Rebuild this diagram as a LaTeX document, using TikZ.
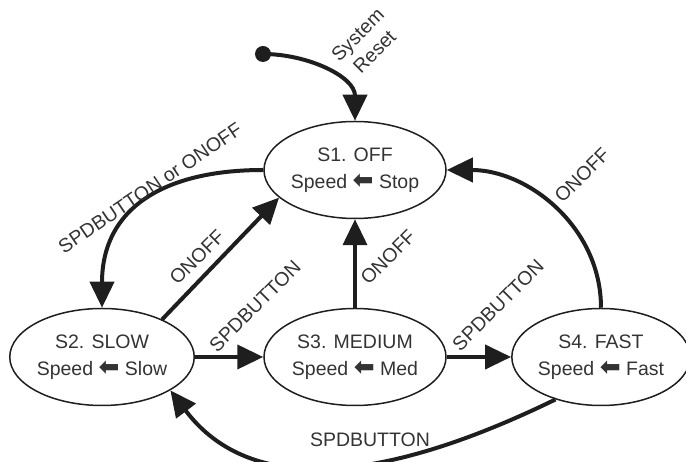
\documentclass[tikz,border=0pt]{standalone}
\usepackage{fontspec}
\setmainfont{Liberation Sans}
\newfontfamily\larrfont{DejaVu Sans}
\usetikzlibrary{shapes.geometric, arrows.meta, positioning}
\newcommand{\assign}{{\larrfont\bfseries\fontsize{25}{27}\selectfont ⬅}}
\definecolor{inkline}{HTML}{1E1E1E}
\definecolor{inktext}{HTML}{333333}

\begin{document}
\begin{tikzpicture}[x=1pt, y=1pt,
    statenode/.style={ellipse, draw=inkline, line width=1.5pt, minimum width=182pt,
        minimum height=97pt, inner sep=0pt, align=center, text=inktext,
        font=\fontsize{19.5}{27}\selectfont},
    lbl/.style={text=inktext, inner sep=0pt, font=\fontsize{19.5}{24}\selectfont},
    trans/.style={draw=inkline, line width=4pt, -{Triangle[length=26pt, width=24pt]}},
    dot/.style={circle, fill=inkline, inner sep=0pt, minimum size=16pt}]
\useasboundingbox (0,0) rectangle (686,462);

% States
\node[statenode] (S1) at (355,292) {S1. OFF\\Speed \assign{} Stop};
\node[statenode] (S2) at (102,105) {S2. SLOW\\Speed \assign{} Slow};
\node[statenode] (S3) at (355,105) {S3. MEDIUM\\Speed \assign{} Med};
\node[statenode, minimum width=170pt] (S4) at (601,105) {S4. FAST\\Speed \assign{} Fast};

% Reset entry
\node[dot] (reset) at (263,408) {};
\draw[trans] (reset.center) to[out=0, in=90] (S1.north);
\node[lbl, align=center, rotate=45] (resetlbl) at (366,419) {System\\Reset};

% Transitions
\draw[trans] (S1.west) to[out=180, in=90, looseness=1.2] (S2.north);
\draw[trans] (S2.32) -- (S1.200);
\draw[trans] (S2.east) -- (S3.west);
\draw[trans] (S3.north) -- (S1.south);
\draw[trans] (S3.east) -- (S4.west);
\draw[trans] (S4.north) to[out=90, in=0] (S1.east);
\draw[trans] (S4.223) to[out=206, in=-53] (S2.-26);

% Transition labels
\node[lbl, rotate=34] (l12) at (150,274) {SPDBUTTON or ONOFF};
\node[lbl, rotate=45] (l21) at (197,205) {ONOFF};
\node[lbl, rotate=45] (l23) at (255,156) {SPDBUTTON};
\node[lbl, rotate=45] (l31) at (388,205) {ONOFF};
\node[lbl, rotate=45] (l34) at (498,157) {SPDBUTTON};
\node[lbl, rotate=45] (l41) at (582,287) {ONOFF};
\node[lbl] (l42) at (370,22) {SPDBUTTON};
\end{tikzpicture}
\end{document}
